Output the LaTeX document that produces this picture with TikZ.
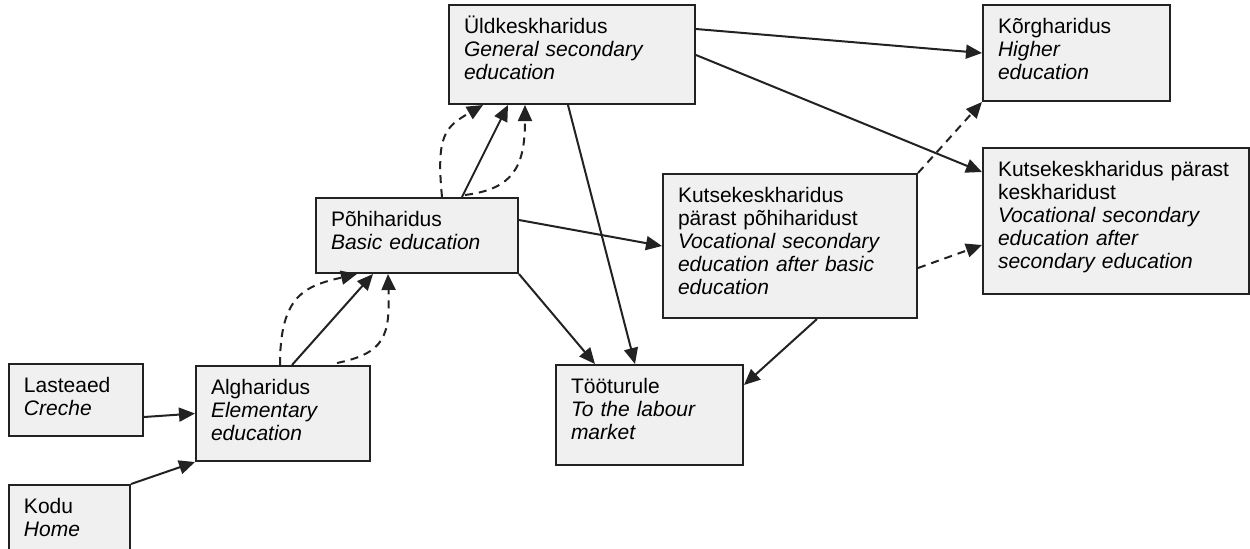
\documentclass[tikz,border=0pt]{standalone}
\usepackage{fontspec}
\setmainfont{Liberation Sans}
\usepackage{xcolor}
\usepackage{tikz}
\usetikzlibrary{arrows.meta,calc}
\definecolor{boxfill}{HTML}{F0F0F0}
\definecolor{ink}{HTML}{222222}

\begin{document}
\begin{tikzpicture}[x=0.5pt, y=-0.5pt,
  box/.style={draw=ink, fill=boxfill, line width=1pt, anchor=north west, align=left,
    inner xsep=7.5pt, inner ysep=4pt, text height=10.4pt, text=black,
    font=\fontsize{10.5}{11.5}\selectfont},
  link/.style={draw=ink, line width=1pt, -{Triangle[length=8pt,width=7pt]}},
  dlink/.style={link, dash pattern=on 4pt off 3pt}]
\useasboundingbox (0,0) rectangle (1250,548);

\node[box, text width=52pt, text depth=17.6pt] (lasteaed) at (8,363) {Lasteaed\\\textit{Creche}};
\node[box, text width=45.5pt, text depth=26.6pt] (kodu) at (8,484) {Kodu\\\textit{Home}};
\node[box, text width=72pt, text depth=29.1pt] (alg) at (195,365) {Algharidus\\\textit{Elementary}\\\textit{education}};
\node[box, text width=86pt, text depth=19.1pt] (pohi) at (315,197) {Põhiharidus\\\textit{Basic education}};
\node[box, text width=108pt, text depth=31.1pt] (yld) at (448,4) {Üldkeskharidus\\\textit{General secondary}\\\textit{education}};
\node[box, text width=112pt, text depth=53.6pt] (kutse1) at (662,173) {Kutsekeskharidus\\pärast põhiharidust\\\textit{Vocational secondary}\\\textit{education after basic}\\\textit{education}};
\node[box, text width=78.5pt, text depth=29.6pt] (korg) at (982,4) {Kõrgharidus\\\textit{Higher}\\\textit{education}};
\node[box, text width=118pt, text depth=54.6pt] (kutse2) at (982,147) {Kutsekeskharidus pärast\\keskharidust\\\textit{Vocational secondary}\\\textit{education after}\\\textit{secondary education}};
\node[box, text width=78.5pt, text depth=31.6pt] (too) at (555,364) {Tööturule\\\textit{To the labour}\\\textit{market}};

\draw[link] ($(lasteaed.east)+(0,17)$) -- (alg.west);
\draw[link] (kodu.north east) -- (alg.south west);

\draw[link] ($(alg.north west)+(97,0)$) -- ($(pohi.south west)+(58,0)$);
\draw[dlink] ($(alg.north west)+(85,0)$) .. controls +(0,-70) and +(-52,12) .. ($(pohi.south west)+(42,0)$);
\draw[dlink] ($(alg.north west)+(142,-2)$) .. controls +(48,-10) and +(2,62) .. ($(pohi.south west)+(73,0)$);

\draw[link] ($(pohi.north west)+(147,0)$) -- ($(yld.south west)+(60,0)$);
\draw[dlink] ($(pohi.north west)+(127,0)$) .. controls +(-6,-62) and +(-38,22) .. ($(yld.south west)+(35,0)$);
\draw[dlink] ($(pohi.north west)+(150,-2)$) .. controls +(48,-6) and +(0,62) .. ($(yld.south west)+(77,0)$);

\draw[link] ($(pohi.north east)+(0,23)$) -- (kutse1.west);
\draw[link] (pohi.south east) -- ($(too.north west)+(40,0)$);
\draw[link] ($(yld.south west)+(120,0)$) -- ($(too.north west)+(80,0)$);

\draw[link] ($(yld.north east)+(0,25)$) -- (korg.west);
\draw[link] ($(yld.north east)+(0,51)$) -- ($(kutse2.north west)+(0,25)$);

\draw[dlink] (kutse1.north east) -- (korg.south west);
\draw[dlink] ($(kutse1.north east)+(0,95)$) -- ($(kutse2.north west)+(0,98)$);
\draw[link] ($(kutse1.south west)+(155,0)$) -- ($(too.north east)+(0,21)$);
\end{tikzpicture}
\end{document}
